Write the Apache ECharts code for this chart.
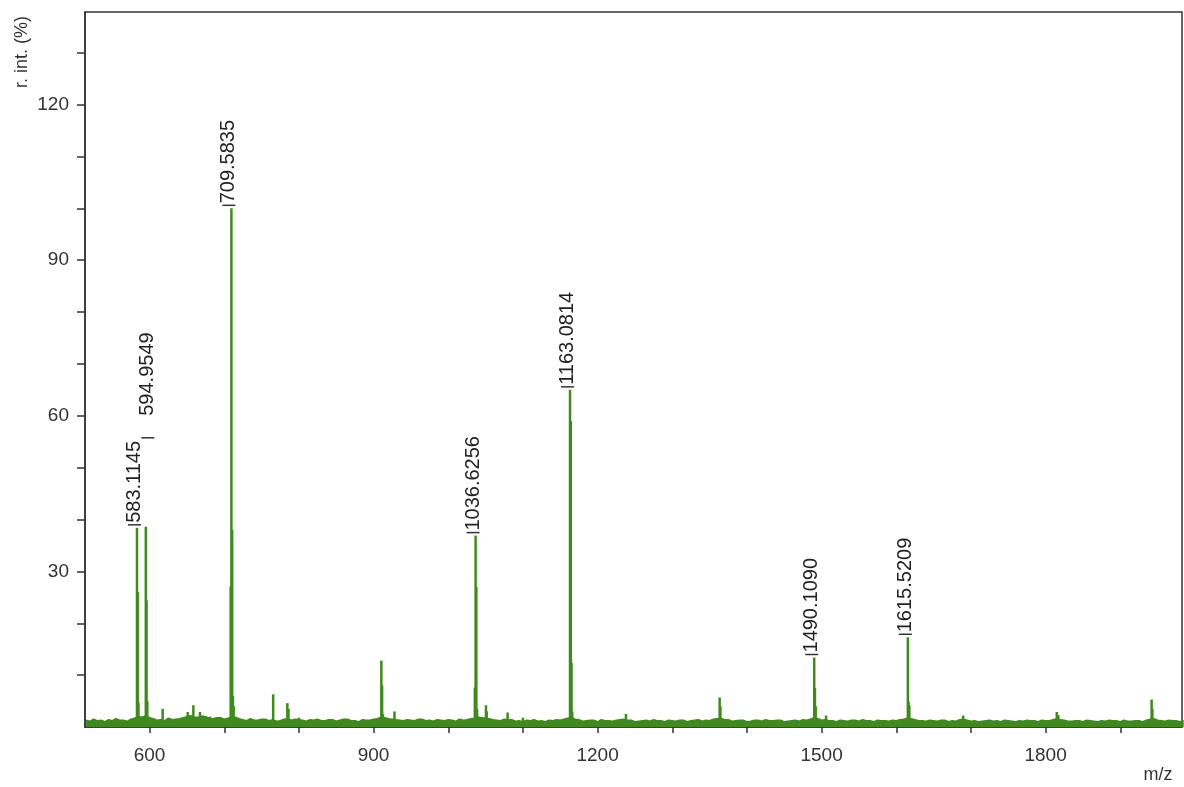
<!DOCTYPE html>
<html>
<head>
<meta charset="utf-8">
<script src="https://cdn.jsdelivr.net/npm/echarts@6/dist/echarts.min.js"></script>
<style>
html,body{margin:0;padding:0;background:#fff;}
#chart{width:1184px;height:787px;}
</style>
</head>
<body>
<div id="chart"></div>
<script>
// ---- data ----
const xTicks = [600,700,800,900,1000,1100,1200,1300,1400,1500,1600,1700,1800,1900];
const xTickLabels = [600,900,1200,1500,1800];
const yTicks = [10,20,30,40,50,60,70,80,90,100,110,120,130];
const yTickLabels = [30,60,90,120];

// labelled peaks
const peakMz = [583.1145, 594.9549, 709.5835, 1036.6256, 1163.0814, 1490.1090, 1615.5209];
const peakInt = [38.4, 38.6, 100.0, 36.9, 65.0, 13.4, 17.3];
const peakLabels = ['583.1145','594.9549','709.5835','1036.6256','1163.0814','1490.1090','1615.5209'];

// isotope / minor peaks (m/z, intensity)
const minorPeaks = [
  [584.1,26.0],[585.1,4.7],[595.95,24.4],[596.95,5.0],
  [617.5,3.5],[627.3,1.7],[651.0,2.9],[658.6,4.2],[667.5,2.9],[680.9,2.0],[694.3,1.7],
  [708.6,27.0],[710.6,38.0],[711.6,6.0],[712.6,4.0],
  [765.5,6.3],[784.5,4.6],[786.0,3.5],[800.0,1.8],
  [910.4,12.8],[911.4,8.0],[912.5,2.5],[928.0,3.0],
  [1035.6,7.6],[1037.6,27.0],[1038.6,3.5],
  [1050.5,4.2],[1051.5,3.0],[1079.5,2.8],[1100.0,1.8],
  [1164.1,59.0],[1165.1,12.4],[1166.1,3.0],
  [1238.0,2.5],[1363.5,5.7],[1364.5,4.0],
  [1491.1,7.5],[1492.1,4.0],[1506.0,2.2],
  [1616.5,4.9],[1617.5,4.2],
  [1689.6,2.2],[1815.0,2.9],[1817.0,2.3],
  [1942.0,5.3],[1943.0,3.5]
];

// baseline noise (m/z, intensity)
const noise = [
  [515,1.3],[520,1.1],[525,1.5],[530,1.2],[535,1.3],[540,1.0],[545,1.4],[550,1.2],[555,1.6],[560,1.3],
  [565,1.3],[570,1.1],[575,1.5],[580,1.7],[585,2.1],[590,1.9],[595,2.2],[600,1.8],[605,1.6],[610,1.3],
  [615,1.4],[620,1.2],[625,1.7],[630,1.4],[635,1.5],[640,1.6],[645,1.8],[650,2.0],[655,2.2],[660,1.9],
  [665,1.9],[670,2.1],[675,2.0],[680,1.7],[685,1.6],[690,1.8],[695,1.8],[700,1.5],[705,1.7],[710,2.0],
  [715,1.9],[720,1.6],[725,1.4],[730,1.2],[735,1.6],[740,1.3],[745,1.3],[750,1.5],[755,1.5],[760,1.2],
  [765,1.4],[770,1.1],[775,1.2],[780,1.5],[785,1.6],[790,1.3],[795,1.5],[800,1.4],[805,1.3],[810,1.1],
  [815,1.4],[820,1.3],[825,1.5],[830,1.2],[835,1.2],[840,1.4],[845,1.4],[850,1.1],[855,1.3],[860,1.5],
  [865,1.5],[870,1.2],[875,1.2],[880,1.0],[885,1.4],[890,1.3],[895,1.3],[900,1.5],[905,1.6],[910,1.9],
  [915,1.8],[920,1.6],[925,1.5],[930,1.4],[935,1.3],[940,1.2],[945,1.4],[950,1.3],[955,1.2],[960,1.5],
  [965,1.5],[970,1.2],[975,1.3],[980,1.1],[985,1.4],[990,1.3],[995,1.2],[1000,1.4],[1005,1.3],[1010,1.1],
  [1015,1.5],[1020,1.3],[1025,1.4],[1030,1.6],[1035,1.7],[1040,1.9],[1045,1.8],[1050,1.7],[1055,1.6],[1060,1.4],
  [1065,1.3],[1070,1.2],[1075,1.5],[1080,1.4],[1085,1.4],[1090,1.1],[1095,1.2],[1100,1.0],[1105,1.3],[1110,1.2],
  [1115,1.4],[1120,1.1],[1125,1.2],[1130,1.0],[1135,1.3],[1140,1.2],[1145,1.4],[1150,1.3],[1155,1.5],[1160,1.7],
  [1165,1.9],[1170,1.5],[1175,1.4],[1180,1.1],[1185,1.2],[1190,1.3],[1195,1.3],[1200,1.0],[1205,1.4],[1210,1.2],
  [1215,1.2],[1220,1.1],[1225,1.3],[1230,1.4],[1235,1.5],[1240,1.3],[1245,1.3],[1250,1.0],[1255,1.1],[1260,1.2],
  [1265,1.3],[1270,1.1],[1275,1.4],[1280,1.2],[1285,1.2],[1290,1.0],[1295,1.3],[1300,1.2],[1305,1.1],[1310,1.3],
  [1315,1.3],[1320,1.0],[1325,1.2],[1330,1.3],[1335,1.4],[1340,1.1],[1345,1.3],[1350,1.2],[1355,1.5],[1360,1.6],
  [1365,1.7],[1370,1.4],[1375,1.4],[1380,1.1],[1385,1.2],[1390,1.3],[1395,1.3],[1400,1.0],[1405,1.1],[1410,1.3],
  [1415,1.3],[1420,1.1],[1425,1.4],[1430,1.2],[1435,1.2],[1440,1.3],[1445,1.3],[1450,1.0],[1455,1.1],[1460,1.2],
  [1465,1.3],[1470,1.1],[1475,1.4],[1480,1.3],[1485,1.5],[1490,1.8],[1495,1.6],[1500,1.3],[1505,1.4],[1510,1.2],
  [1515,1.2],[1520,1.0],[1525,1.3],[1530,1.2],[1535,1.1],[1540,1.3],[1545,1.3],[1550,1.1],[1555,1.4],[1560,1.2],
  [1565,1.2],[1570,1.0],[1575,1.3],[1580,1.2],[1585,1.2],[1590,1.1],[1595,1.3],[1600,1.2],[1605,1.4],[1610,1.5],
  [1615,1.7],[1620,1.6],[1625,1.4],[1630,1.2],[1635,1.2],[1640,1.1],[1645,1.3],[1650,1.2],[1655,1.1],[1660,1.3],
  [1665,1.3],[1670,1.0],[1675,1.2],[1680,1.1],[1685,1.4],[1690,1.5],[1695,1.3],[1700,1.1],[1705,1.2],[1710,1.0],
  [1715,1.1],[1720,1.2],[1725,1.3],[1730,1.1],[1735,1.2],[1740,1.0],[1745,1.3],[1750,1.2],[1755,1.1],[1760,1.0],
  [1765,1.2],[1770,1.1],[1775,1.3],[1780,1.2],[1785,1.2],[1790,1.0],[1795,1.3],[1800,1.2],[1805,1.2],[1810,1.4],
  [1815,1.6],[1820,1.4],[1825,1.3],[1830,1.1],[1835,1.1],[1840,1.2],[1845,1.2],[1850,1.0],[1855,1.3],[1860,1.2],
  [1865,1.1],[1870,1.0],[1875,1.2],[1880,1.1],[1885,1.3],[1890,1.2],[1895,1.2],[1900,1.0],[1905,1.3],[1910,1.1],
  [1915,1.1],[1920,1.2],[1925,1.2],[1930,1.0],[1935,1.3],[1940,1.5],[1945,1.6],[1950,1.3],[1955,1.2],[1960,1.1],
  [1965,1.3],[1970,1.2],[1975,1.2],[1980,1.0],[1985,1.2]
];

// ---- chart ----
const GREEN = '#3f8a1f';
const FONT = '"Liberation Sans", Arial, sans-serif';
const chart = echarts.init(document.getElementById('chart'), null, {renderer:'canvas'});

const allPeaks = peakMz.map((m,i)=>[m, peakInt[i]]).concat(minorPeaks);

function renderPeakLabel(params, api) {
  const i = params.dataIndex;
  const p = api.coord([api.value(0), api.value(1)]);
  const raised = (i === 1);
  const lift = raised ? 89 : 3;
  const gap = raised ? 22 : 2;
  const dx = raised ? 2 : -2.5;
  const by = p[1] - lift;
  return {
    type: 'group',
    children: [
      {type: 'rect', shape: {x: p[0] + dx - 6.5, y: by - 0.75, width: 13, height: 1.5}, style: {fill: '#333'}},
      {type: 'text', x: p[0] + dx, y: by - gap, rotation: Math.PI / 2,
       style: {text: peakLabels[i], font: '20px ' + FONT, fill: '#222', textAlign: 'left', textVerticalAlign: 'middle'}}
    ]
  };
}

const option = {
  animation: false,
  backgroundColor: '#fff',
  grid: {left: 85, top: 12, width: 1097, height: 715, show: true, borderColor: '#333', borderWidth: 1.5, backgroundColor: 'transparent'},
  xAxis: {
    type: 'value', min: 513.5, max: 1982.7,
    axisLine: {show: true, lineStyle: {color: '#333', width: 1.5}},
    axisTick: {show: true, inside: false, length: 6, lineStyle: {color: '#333', width: 1.5}, customValues: xTicks},
    axisLabel: {show: true, margin: 19, fontSize: 19, fontFamily: FONT, color: '#333', customValues: xTickLabels, formatter: v => String(v)},
    splitLine: {show: false}
  },
  yAxis: {
    type: 'value', min: 0, max: 137.85,
    axisLine: {show: true, lineStyle: {color: '#333', width: 1.5}},
    axisTick: {show: true, inside: false, length: 8, lineStyle: {color: '#333', width: 1.5}, customValues: yTicks},
    axisLabel: {show: true, margin: 16, fontSize: 19, fontFamily: FONT, color: '#333', customValues: yTickLabels, formatter: v => String(v)},
    splitLine: {show: false}
  },
  graphic: [
    {type: 'text', x: 22, y: 52, rotation: Math.PI/2,
     style: {text: 'r. int. (%)', font: '18px ' + FONT, fill: '#333', textAlign: 'center', textVerticalAlign: 'middle'}},
    {type: 'text', x: 1158, y: 775,
     style: {text: 'm/z', font: '18px ' + FONT, fill: '#333', textAlign: 'center', textVerticalAlign: 'middle'}}
  ],
  series: [
    {
      name: 'baseline', type: 'line', data: noise, symbol: 'none', z: 2,
      lineStyle: {color: GREEN, width: 1.5}, areaStyle: {color: GREEN, opacity: 1}
    },
    {
      name: 'peaks', type: 'bar', data: allPeaks, barWidth: 2.5, z: 3,
      itemStyle: {color: GREEN}
    },
    {
      name: 'labels', type: 'custom', z: 4, clip: false,
      data: peakMz.map((m,i)=>[m, peakInt[i]]),
      renderItem: renderPeakLabel
    }
  ]
};
chart.setOption(option);
</script>
</body>
</html>
